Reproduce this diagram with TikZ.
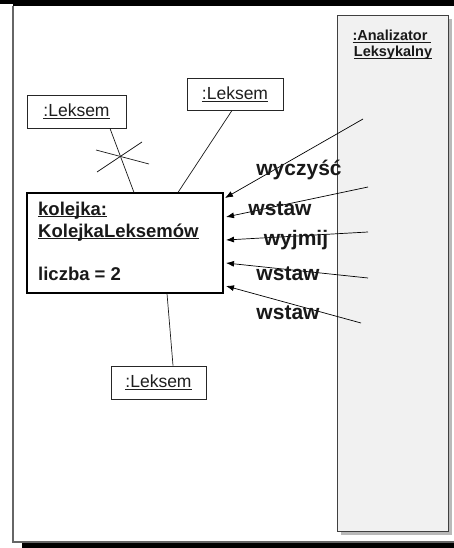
\documentclass[tikz,border=0pt]{standalone}
\usepackage{fontspec}
\setmainfont{Liberation Sans}
\usetikzlibrary{arrows.meta,shadows}
% underline drawn at a fixed depth below the baseline
\newcommand\lineunder[1]{\setbox0\hbox{#1}\rlap{\rule[-2.2pt]{\wd0}{0.9pt}}\box0}
\begin{document}
\begin{tikzpicture}[x=1pt,y=-1pt,
  obj/.style={draw=black!85, line width=0.9pt, fill=white, inner sep=0,
    font=\fontsize{17.5}{21}\selectfont, text=black!88},
  big/.style={font=\fontsize{18.5}{22}\selectfont\bfseries, text=black!90, inner sep=0, anchor=base west},
  lbl/.style={font=\fontsize{21}{25}\selectfont\bfseries, text=black!90, inner sep=0},
  msg/.style={-{Latex[length=8pt,width=6pt]}, line width=0.7pt, black},
  link/.style={line width=0.7pt, black!90}]
\useasboundingbox (0,0) rectangle (454,548);

% diagram frame
\draw[gray!80!black, line width=1.3pt] (13,6) -- (13,542) -- (470,542);
\fill[black] (0,0) rectangle (454,4.5);
\fill[black] (13,0) rectangle (454,6);
\fill[black] (22,543) rectangle (454,548);

% lexical analyser object
\node[draw=black!75, line width=0.9pt, fill=gray!11, minimum width=111pt, minimum height=516pt,
  drop shadow={shadow xshift=4pt, shadow yshift=-4pt, fill=gray!55, opacity=1}]
  (an) at (392.5,273) {};
\node[font=\fontsize{14.5}{16}\selectfont\bfseries, text=black!90, inner sep=0, anchor=base]
  (an1) at (392,41) {\lineunder{:Analizator\ }};
\node[font=\fontsize{14.5}{16}\selectfont\bfseries, text=black!90, inner sep=0, anchor=base]
  (an2) at (393,57) {\lineunder{Leksykalny}};

% queue object
\node[draw=black, line width=1.1pt, fill=white, minimum width=196pt, minimum height=100pt]
  (k) at (125,243) {};
\node[big] (k1) at (38,215) {\lineunder{kolejka:}};
\node[big] (k2) at (38,237) {\lineunder{KolejkaLeksemów}};
\node[big] (k3) at (38,280) {liczba = 2};

% token objects
\node[obj, minimum width=99pt, minimum height=33pt] (l1) at (76.5,111.5) {\lineunder{:Leksem}};
\node[obj, minimum width=96pt, minimum height=32pt] (l2) at (235,94) {\lineunder{:Leksem}};
\node[obj, minimum width=95pt, minimum height=33pt] (l3) at (158.5,382.5) {\lineunder{:Leksem}};

% links
\draw[link] ([xshift=33.5pt]l1.south) -- ([xshift=9pt]k.north);
\draw[link] ([xshift=-3pt]l2.south) -- ([xshift=53pt]k.north);
\draw[link] ([xshift=42pt]k.south) -- ([xshift=14.5pt]l3.north);

% destroyed link mark
\coordinate (xa) at (96,150);  \coordinate (xb) at (149,164);
\coordinate (xc) at (97,172);  \coordinate (xd) at (142,142);
\draw[link] (xa) -- (xb);
\draw[link] (xc) -- (xd);

% messages
\coordinate (s1) at (363,119); \coordinate (t1) at (225,198);
\coordinate (s2) at (368,187); \coordinate (t2) at (226,217);
\coordinate (s3) at (368,232); \coordinate (t3) at (226,240);
\coordinate (s4) at (368,278); \coordinate (t4) at (226,263);
\coordinate (s5) at (361,323); \coordinate (t5) at (226,286);
\draw[msg] (s1) -- (t1);
\draw[msg] (s2) -- (t2);
\draw[msg] (s3) -- (t3);
\draw[msg] (s4) -- (t4);
\draw[msg] (s5) -- (t5);

\node[lbl] (m1) at (299,170) {wyczyść};
\node[lbl] (m2) at (280,209) {wstaw};
\node[lbl] (m3) at (296,240) {wyjmij};
\node[lbl] (m4) at (288,274) {wstaw};
\node[lbl] (m5) at (288,313) {wstaw};
\end{tikzpicture}
\end{document}
